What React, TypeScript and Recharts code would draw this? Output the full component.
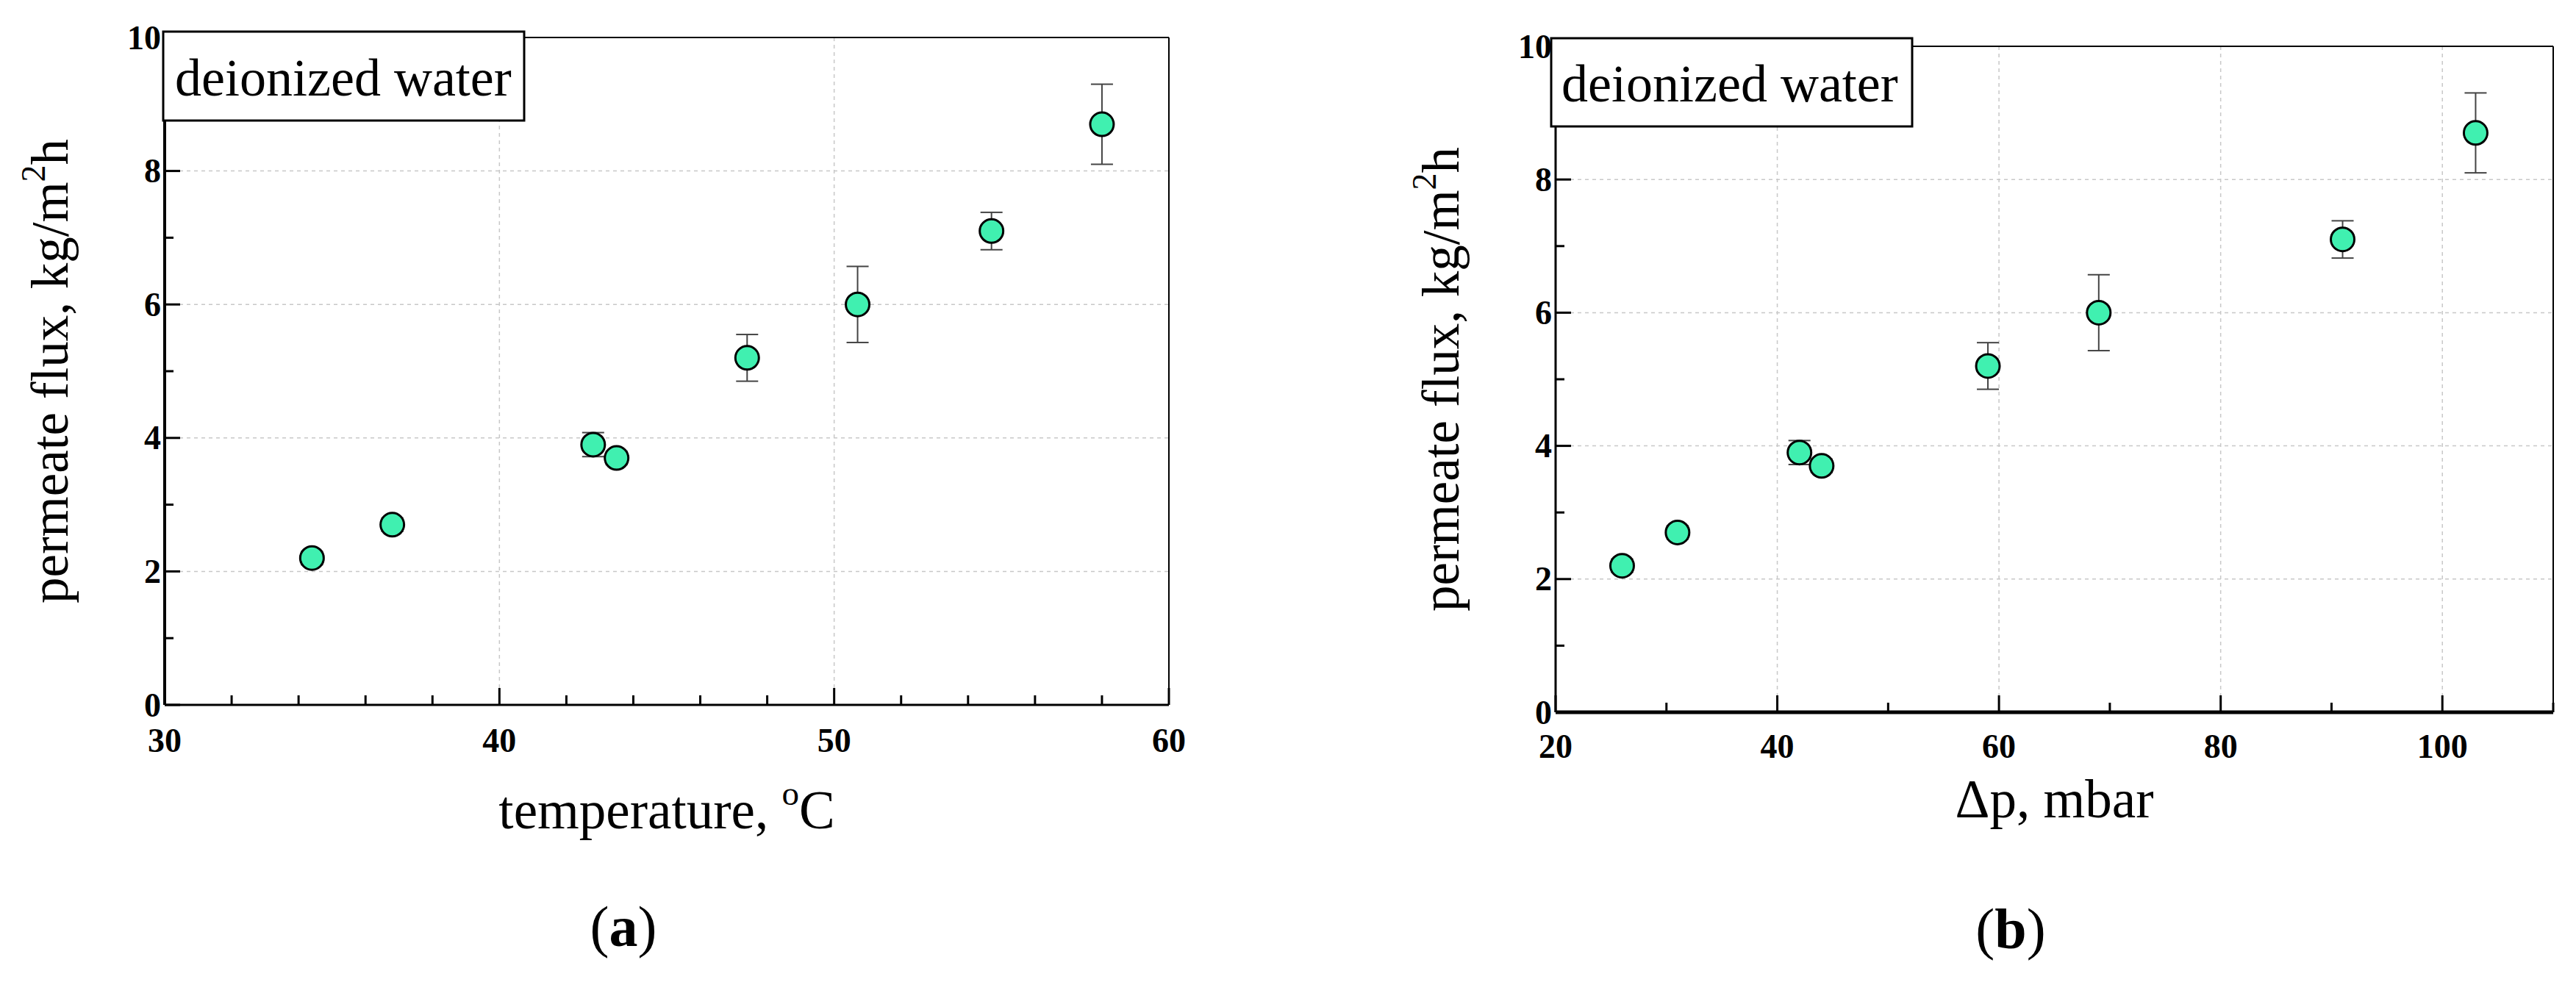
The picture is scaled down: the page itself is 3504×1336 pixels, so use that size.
import React from 'react';
import { ScatterChart, Scatter, XAxis, YAxis, CartesianGrid, ErrorBar, ReferenceLine } from 'recharts';

// ---- data ----
const temperature = [34.4, 36.8, 42.8, 43.5, 47.4, 50.7, 54.7, 58.0];
const deltaP = [26, 31, 42, 44, 59, 69, 91, 103];
const flux = [2.2, 2.7, 3.9, 3.7, 5.2, 6.0, 7.1, 8.7];
const fluxErr = [0.1, 0.1, 0.18, 0.1, 0.35, 0.57, 0.28, 0.6];

const xTicksA = [30, 32, 34, 36, 38, 40, 42, 44, 46, 48, 50, 52, 54, 56, 58, 60];
const xTicksB = [20, 30, 40, 50, 60, 70, 80, 90, 100, 110];
const yTicks = [0, 1, 2, 3, 4, 5, 6, 7, 8, 9, 10];
const yGrid = [2, 4, 6, 8];
const xGridA = [40, 50];
const xGridB = [40, 60, 80, 100];

const dataA = temperature.map((t, i) => ({ x: t, y: flux[i], err: fluxErr[i] }));
const dataB = deltaP.map((p, i) => ({ x: p, y: flux[i], err: fluxErr[i] }));

const FONT = '"Liberation Serif", "Times New Roman", serif';
const H = 1336;
const XH = 100;
const YW = 100;

const dot = (props: any) => {
  const { cx, cy } = props;
  if (cx == null || cy == null) return null;
  return <circle cx={cx} cy={cy} r={16} fill="#40F0B0" stroke="#000" strokeWidth={3} />;
};

const makeXTick = (plotBottom: number, majorEvery: number, labelDy: number) => (props: any) => {
  const { x, payload } = props;
  const v = payload.value;
  const major = Math.abs(v % majorEvery) < 1e-9;
  return (
    <g>
      <line x1={x} x2={x} y1={plotBottom} y2={plotBottom - (major ? 23 : 13)} stroke="#000" strokeWidth={3} />
      {major && (
        <text x={x} y={plotBottom + labelDy} textAnchor="middle" dominantBaseline="central"
          fontFamily={FONT} fontSize={46} fontWeight="bold" fill="#000">{v}</text>
      )}
    </g>
  );
};

const makeYTick = (plotLeft: number) => (props: any) => {
  const { y, payload } = props;
  const v = payload.value;
  const major = v % 2 === 0;
  return (
    <g>
      <line x1={plotLeft} x2={plotLeft + (major ? 21 : 12)} y1={y} y2={y} stroke="#000" strokeWidth={3} />
      {major && (
        <text x={plotLeft - 5} y={y} textAnchor="end" dominantBaseline="central"
          fontFamily={FONT} fontSize={46} fontWeight="bold" fill="#000">{v}</text>
      )}
    </g>
  );
};

const yTitle = (props: any) => {
  const vb = props.viewBox || {};
  const cx = vb.x + vb.width - 132;
  const cy = vb.y + vb.height / 2;
  return (
    <text x={cx} y={cy} transform={`rotate(-90, ${cx}, ${cy})`} textAnchor="middle"
      fontFamily={FONT} fontSize={71} fill="#000">
      permeate flux, kg/m<tspan fontSize={46} dy={-31}>2</tspan><tspan dy={31}>h</tspan>
    </text>
  );
};

const makeXTitle = (dy: number, kind: 'a' | 'b') => (props: any) => {
  const vb = props.viewBox || {};
  const cx = vb.x + vb.width / 2;
  const y = vb.y + dy;
  if (kind === 'a') {
    return (
      <text x={cx} y={y} textAnchor="middle" fontFamily={FONT} fontSize={73} fill="#000">
        temperature, <tspan fontSize={47} dy={-32}>o</tspan><tspan dy={32}>C</tspan>
      </text>
    );
  }
  return (
    <text x={cx} y={y} textAnchor="middle" fontFamily={FONT} fontSize={73} fill="#000">
      Δp, mbar
    </text>
  );
};

const gridProps = { stroke: '#c8c8c8', strokeWidth: 1.5, strokeDasharray: '5 5' };

function ChartA() {
  const margin = { top: 51, right: 110, bottom: H - 959 - XH, left: 224 - YW };
  return (
    <ScatterChart width={1700} height={H} margin={margin}>
      <CartesianGrid {...gridProps} horizontalValues={yGrid} verticalValues={xGridA} />
      <XAxis type="number" dataKey="x" domain={[30, 60]} ticks={xTicksA} interval={0} height={XH}
        allowDataOverflow axisLine={{ stroke: '#000', strokeWidth: 3 }} tickLine={false}
        tick={makeXTick(959, 10, 48)} label={{ content: makeXTitle(168, 'a') }} />
      <YAxis type="number" dataKey="y" domain={[0, 10]} ticks={yTicks} interval={0} width={YW}
        allowDataOverflow axisLine={{ stroke: '#000', strokeWidth: 4 }} tickLine={false}
        tick={makeYTick(224)} label={{ content: yTitle }} />
      <ReferenceLine y={10} stroke="#000" strokeWidth={2} />
      <ReferenceLine x={60} stroke="#000" strokeWidth={2} />
      <Scatter data={dataA} shape={dot} isAnimationActive={false}>
        <ErrorBar dataKey="err" direction="y" width={15} stroke="#444" strokeWidth={2} />
      </Scatter>
    </ScatterChart>
  );
}

function ChartB() {
  const margin = { top: 63, right: 31, bottom: H - 969 - XH, left: 366 - YW };
  return (
    <ScatterChart width={1754} height={H} margin={margin}>
      <CartesianGrid {...gridProps} horizontalValues={yGrid} verticalValues={xGridB} />
      <XAxis type="number" dataKey="x" domain={[20, 110]} ticks={xTicksB} interval={0} height={XH}
        allowDataOverflow axisLine={{ stroke: '#000', strokeWidth: 5 }} tickLine={false}
        tick={makeXTick(969, 20, 46)} label={{ content: makeXTitle(143, 'b') }} />
      <YAxis type="number" dataKey="y" domain={[0, 10]} ticks={yTicks} interval={0} width={YW}
        allowDataOverflow axisLine={{ stroke: '#000', strokeWidth: 3 }} tickLine={false}
        tick={makeYTick(366)} label={{ content: yTitle }} />
      <ReferenceLine y={10} stroke="#000" strokeWidth={2} />
      <ReferenceLine x={110} stroke="#000" strokeWidth={2} />
      <Scatter data={dataB} shape={dot} isAnimationActive={false}>
        <ErrorBar dataKey="err" direction="y" width={15} stroke="#444" strokeWidth={2} />
      </Scatter>
    </ScatterChart>
  );
}

export default function App() {
  return (
    <div style={{ position: 'absolute', left: 0, top: 0, width: 3504, height: H, background: '#fff', overflow: 'hidden' }}>
      <div style={{ position: 'absolute', left: 0, top: 0 }}><ChartA /></div>
      <div style={{ position: 'absolute', left: 1750, top: 0 }}><ChartB /></div>
      <svg width={3504} height={H} style={{ position: 'absolute', left: 0, top: 0, pointerEvents: 'none' }}>
        <rect x={222} y={43} width={491} height={121} fill="#fff" stroke="#000" strokeWidth={3} />
        <text x={238} y={130} fontFamily={FONT} fontSize={72} fill="#000">deionized water</text>
        <rect x={2110} y={52} width={491} height={120} fill="#fff" stroke="#000" strokeWidth={3} />
        <text x={2124} y={138} fontFamily={FONT} fontSize={72} fill="#000">deionized water</text>
        <text x={848} y={1287} textAnchor="middle" fontFamily={FONT} fontSize={78} fill="#000">(<tspan fontWeight="bold">a</tspan>)</text>
        <text x={2735} y={1290} textAnchor="middle" fontFamily={FONT} fontSize={78} fill="#000">(<tspan fontWeight="bold">b</tspan>)</text>
      </svg>
    </div>
  );
}
